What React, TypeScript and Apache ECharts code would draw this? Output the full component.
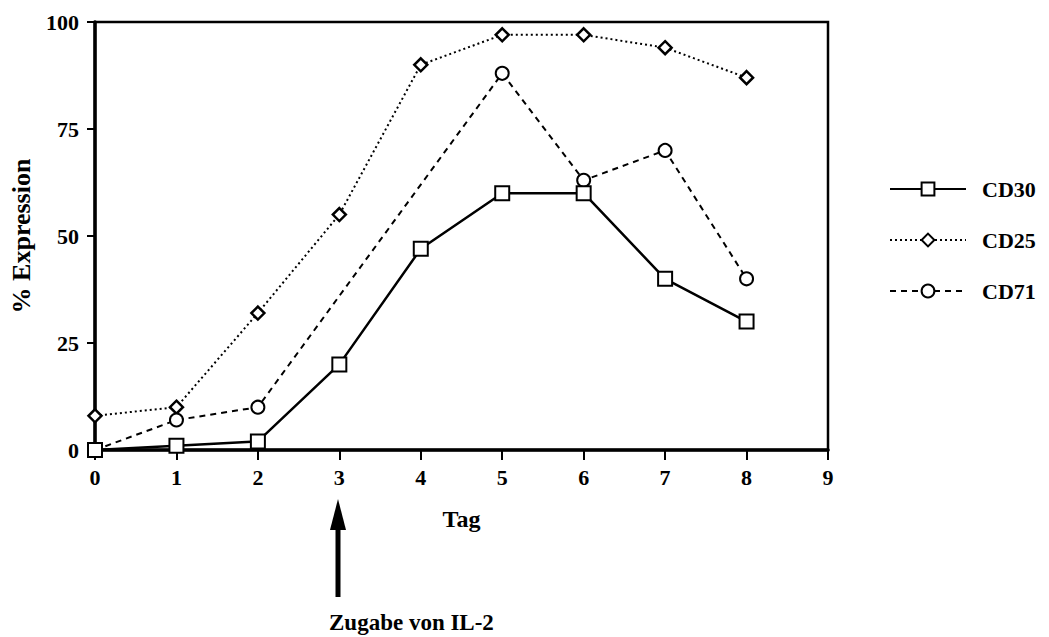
import React, { useEffect, useRef } from "react";
import * as echarts from "echarts";

const days = [0, 1, 2, 3, 4, 5, 6, 7, 8];
const cd30 = [0, 1, 2, 20, 47, 60, 60, 40, 30];
const cd25 = [8, 10, 32, 55, 90, 97, 97, 94, 87];
const cd71Days = [0, 1, 2, 5, 6, 7, 8];
const cd71 = [0, 7, 10, 88, 63, 70, 40];
const seriesNames = ["CD30", "CD25", "CD71"];
const xName = "Tag";
const yName = "% Expression";
const annotation = "Zugabe von IL-2";
const annotationDay = 3;

const FONT = "Liberation Serif";

export default function App() {
  const ref = useRef<HTMLDivElement>(null);
  useEffect(() => {
    document.body.style.margin = "0";
    const chart = echarts.init(ref.current!, null, { renderer: "svg" });
    const pair = (xs: number[], ys: number[]) => xs.map((x, i) => [x, ys[i]]);
    const markerStyle = { color: "#fff", borderColor: "#000", borderWidth: 2 };
    const gridLeft = 93;
    const gridRight = 828;
    const arrowX = gridLeft + ((gridRight - gridLeft) * annotationDay) / 9;
    chart.setOption({
      animation: false,
      backgroundColor: "#fff",
      textStyle: { fontFamily: FONT },
      grid: {
        left: gridLeft,
        top: 22,
        right: 1049 - gridRight,
        bottom: 637 - 450,
        show: true,
        borderColor: "#000",
        borderWidth: 2.5,
        backgroundColor: "transparent",
      },
      xAxis: {
        type: "value",
        min: 0,
        max: 9,
        interval: 1,
        name: xName,
        nameLocation: "middle",
        nameGap: 57,
        nameTextStyle: { fontSize: 24, fontWeight: "bold", color: "#000", fontFamily: FONT },
        axisLine: { show: true, lineStyle: { color: "#000", width: 3.5 } },
        axisTick: { show: true, length: 10, lineStyle: { color: "#000", width: 2 } },
        axisLabel: { fontSize: 22, fontWeight: "bold", color: "#000", margin: 16, fontFamily: FONT },
        splitLine: { show: false },
      },
      yAxis: {
        type: "value",
        min: 0,
        max: 100,
        interval: 25,
        name: yName,
        nameLocation: "middle",
        nameGap: 61,
        nameTextStyle: { fontSize: 26, fontWeight: "bold", color: "#000", fontFamily: FONT },
        axisLine: { show: true, lineStyle: { color: "#000", width: 3.5 } },
        axisTick: { show: true, length: 8, lineStyle: { color: "#000", width: 2 } },
        axisLabel: { fontSize: 22, fontWeight: "bold", color: "#000", margin: 16, fontFamily: FONT },
        splitLine: { show: false },
      },
      legend: {
        orient: "vertical",
        left: 884,
        top: 173,
        itemWidth: 76,
        itemHeight: 16,
        itemGap: 29,
        textStyle: {
          fontSize: 22,
          fontWeight: "bold",
          color: "#000",
          fontFamily: FONT,
          lineHeight: 22,
          padding: [0, 0, 0, 11],
        },
        data: seriesNames,
      },
      series: [
        {
          name: seriesNames[1],
          type: "line",
          data: pair(days, cd25),
          symbol: "diamond",
          symbolSize: [13, 13],
          itemStyle: { ...markerStyle, borderWidth: 2.5 },
          lineStyle: { color: "#000", width: 2, type: [2, 3] },
          z: 2,
        },
        {
          name: seriesNames[2],
          type: "line",
          data: pair(cd71Days, cd71),
          symbol: "circle",
          symbolSize: 13,
          itemStyle: markerStyle,
          lineStyle: { color: "#000", width: 2, type: [6, 5] },
          z: 3,
        },
        {
          name: seriesNames[0],
          type: "line",
          data: pair(days, cd30),
          symbol: "rect",
          symbolSize: 14,
          itemStyle: markerStyle,
          lineStyle: { color: "#000", width: 2.5, type: "solid" },
          z: 4,
        },
      ],
      graphic: [
        {
          type: "polygon",
          shape: {
            points: [
              [arrowX, 499],
              [arrowX - 8, 530],
              [arrowX + 8, 530],
            ],
          },
          style: { fill: "#000" },
        },
        {
          type: "rect",
          shape: { x: arrowX - 2.5, y: 528, width: 5, height: 69 },
          style: { fill: "#000" },
        },
        {
          type: "text",
          x: 329,
          y: 622,
          style: {
            text: annotation,
            font: `bold 23px "${FONT}"`,
            fill: "#000",
            textAlign: "left",
            textVerticalAlign: "middle",
          },
        },
      ],
    });
    return () => chart.dispose();
  }, []);
  return <div ref={ref} style={{ width: 1049, height: 637 }} />;
}
